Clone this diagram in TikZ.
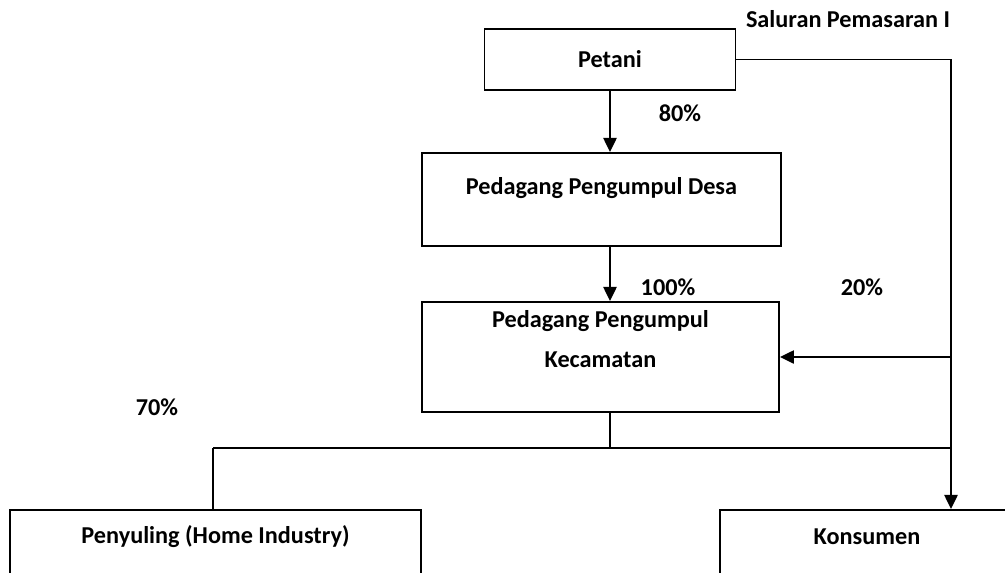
\documentclass[tikz,border=0pt]{standalone}
\usepackage{fontspec}
\setmainfont{Carlito}
\usetikzlibrary{
  arrows.meta,
  positioning,
}
\tikzset{
  >={Triangle[length=8pt,width=7.5pt]},
  box/.style={draw, line width=1.1pt, inner sep=0pt},
  lbl/.style={font=\bfseries\fontsize{13.8}{16}\selectfont, inner sep=1pt},
  link/.style={line width=1.1pt},
}

\begin{document}
\begin{tikzpicture}[x=0.02cm, y=-0.02cm]
      \useasboundingbox (0, 0) rectangle (1005, 572);

      \node [box, minimum width=5.02cm, minimum height=1.22cm] (petani) at (610, 59.5) {};
      \node [box, minimum width=7.18cm, minimum height=1.86cm] (desa) at (601.5, 199.5) {};
      \node [box, minimum width=7.14cm, minimum height=2.2cm] (kec) at (600.5, 357) {};
      \node [box, minimum width=8.22cm, minimum height=1.8cm] (suling) at (215.5, 555) {};
      \node [box, minimum width=5.88cm, minimum height=1.8cm] (konsumen) at (867, 555) {};

      \node [lbl] (petaniText) at (petani.center) {Petani};
      \node [lbl] (desaText) at (601.5, 188) {Pedagang Pengumpul Desa};
      \node [lbl, align=center] (kecText) at (600.5, 339) {Pedagang Pengumpul\\[7pt]Kecamatan};
      \node [lbl] (sulingText) at (215.5, 537) {Penyuling (Home Industry)};
      \node [lbl] (konsumenText) at (867, 537) {Konsumen};

      \node [lbl] (saluran) at (848, 19) {Saluran Pemasaran I};
      \node [lbl] (p80) at (680, 113) {80\%};
      \node [lbl] (p100) at (668, 287) {100\%};
      \node [lbl] (p20) at (862, 287) {20\%};
      \node [lbl] (p70) at (157, 407) {70\%};

      \coordinate (turn) at (951, 59.5);
      \coordinate (split) at (951, 448);
      \coordinate (join) at (petani.south |- split);
      \coordinate (left) at (213, 448);

      \draw [link, ->] (petani.south) -- (petani.south |- desa.north);
      \draw [link, ->] (petani.south |- desa.south) -- (petani.south |- kec.north);
      \draw [link] (petani.east) -- (turn) -- (split);
      \draw [link, ->] (turn |- kec.east) -- (kec.east);
      \draw [link, ->] (split) -- (split |- konsumen.north);
      \draw [link] (join |- kec.south) -- (join);
      \draw [link] (left) -- (split);
      \draw [link] (left) -- (left |- suling.north);
    \end{tikzpicture}
\end{document}
